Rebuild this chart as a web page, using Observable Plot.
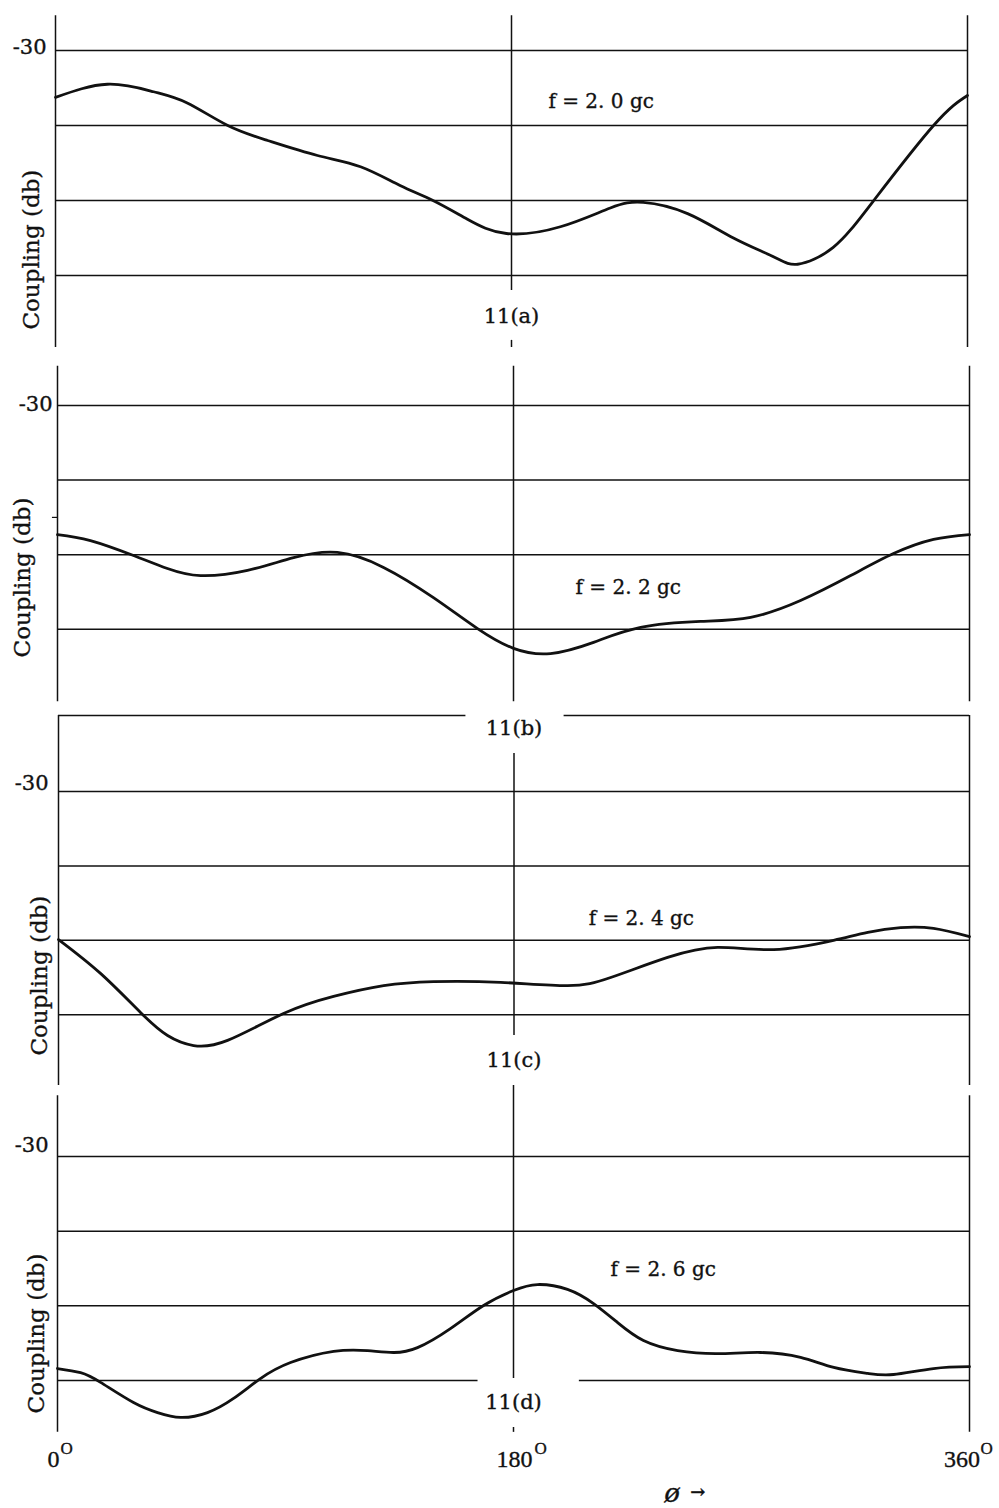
<!DOCTYPE html>
<html><head><meta charset="utf-8">
<script src="https://cdn.jsdelivr.net/npm/d3@7"></script>
<script src="https://cdn.jsdelivr.net/npm/@observablehq/plot@0.6"></script>
<style>
body{margin:0;background:#fff;}
#fig{position:relative;width:999px;height:1508px;background:#fff;overflow:hidden;}
#fig svg{position:absolute;left:0;}
</style></head><body><div id="fig"></div>
<script>
// ---- data (phase in degrees, coupling in dB) ----
const gridValues = [-30, -32, -34, -36];
const yTickLabel = "-30";
const xTickValues = [0, 180, 360];
const xTickLabels = ["0", "180", "360"];
const xAxisLabel = ["ø", "→"];
const yAxisLabel = "Coupling (db)";
const freqLabels = ["f = 2. 0 gc", "f = 2. 2 gc", "f = 2. 4 gc", "f = 2. 6 gc"];
const panelTags = ["11(a)", "11(b)", "11(c)", "11(d)"];

const phiA = [0, 20.5, 38.7, 52, 68, 83.7, 103.4, 120.4, 136, 149, 162.6, 178, 199.3, 219, 232, 249.5, 267.6, 283.4, 293, 307, 323, 346.6, 360];
const dbA  = [-31.25, -30.9, -31.1, -31.4, -32.0, -32.4, -32.8, -33.1, -33.6, -34.0, -34.5, -34.88, -34.7, -34.2, -34.05, -34.35, -35.0, -35.5, -35.7, -35.25, -34.0, -32.0, -31.2];

const phiB = [0, 13, 30, 43.4, 56.5, 75, 93.2, 110.5, 128.7, 148.4, 165.8, 180, 194.6, 211.6, 230.2, 253.8, 273.6, 293.3, 313.1, 330, 345.8, 360];
const dbB  = [-33.46, -33.62, -34.02, -34.37, -34.56, -34.42, -34.08, -33.94, -34.34, -35.15, -35.98, -36.51, -36.65, -36.35, -35.95, -35.79, -35.68, -35.23, -34.56, -33.97, -33.59, -33.46];

const phiC = [0, 16.6, 32.4, 43.1, 53.4, 66.8, 88.9, 108.7, 128.5, 148.2, 174.7, 201.2, 218.2, 240.7, 260.5, 282.6, 306.3, 319.8, 332.8, 345.8, 360];
const dbC  = [-33.98, -34.89, -35.94, -36.56, -36.83, -36.69, -35.97, -35.51, -35.22, -35.11, -35.13, -35.22, -35.0, -34.46, -34.19, -34.25, -34.0, -33.79, -33.66, -33.68, -33.9];

const phiD = [0, 9.1, 17, 30, 39.5, 48.6, 59.2, 69.5, 80.1, 92, 109, 122.4, 132.6, 142.1, 155.1, 168.2, 180, 189.5, 201.3, 211.6, 221.1, 231.3, 244.8, 260.6, 277.5, 293.3, 306.4, 319.8, 330, 345.8, 360];
const dbD  = [-35.68, -35.79, -36.05, -36.59, -36.86, -36.99, -36.86, -36.48, -35.95, -35.52, -35.22, -35.2, -35.25, -35.12, -34.61, -33.99, -33.59, -33.43, -33.56, -33.94, -34.45, -34.93, -35.2, -35.28, -35.25, -35.38, -35.65, -35.81, -35.84, -35.68, -35.63];

// ---- layout (page pixels) ----
const panels = [
  {phi: phiA, db: dbA, top: 0, h: 360, grid: 50, ppd: 37.5, ml: 55, mr: 32,
   frame: [-29.07, -37.92], center: [[-29.07, -36.4], [-37.73, -37.92]],
   grids: gridValues.map(y => ({y, x1: 0, x2: 360})),
   yLab: {dx: -9, dy: -3}, freq: {x: 194.6, y: -31.36}, tag: {x: 180, y: -37.09},
   coup: {y: -35.31, dx: -24}},
  {phi: phiB, db: dbB, top: 360, h: 345, grid: 405, ppd: 37.3, ml: 57, mr: 30,
   frame: [-28.95, -37.94], center: [[-28.95, -37.94]],
   grids: gridValues.map(y => ({y, x1: 0, x2: 360})),
   yLab: {dx: -5, dy: -1}, freq: {x: 204.5, y: -34.88}, tag: null,
   coup: {y: -34.61, dx: -35}, mark: true},
  {phi: phiC, db: dbC, top: 705, h: 385, grid: 791, ppd: 37.2, ml: 58, mr: 30,
   frame: [-27.96, -37.9], center: [[-28.98, -36.56]],
   grids: gridValues.map(y => ({y, x1: 0, x2: 360})).concat([{y: -27.96, x1: 0, x2: 161}, {y: -27.96, x1: 199.8, x2: 360}]),
   yLab: {dx: -10, dy: -8}, freq: {x: 209.5, y: -33.41}, tag: {x: 180, y: -37.23},
   tagB: {x: 180, y: -28.31}, coup: {y: -34.95, dx: -19}},
  {phi: phiD, db: dbD, top: 1085, h: 423, grid: 1156, ppd: 37.33, ml: 57, mr: 30,
   frame: [-28.37, -37.39], center: [[-28.1, -35.95], [-37.26, -37.39]],
   grids: gridValues.slice(0, 3).map(y => ({y, x1: 0, x2: 360})).concat([{y: -36, x1: 0, x2: 166}, {y: -36, x1: 206, x2: 360}]),
   yLab: {dx: -9, dy: -11}, freq: {x: 218.3, y: -33.03}, tag: {x: 180, y: -36.59},
   coup: {y: -34.74, dx: -21}, xAxis: true}
];

const FONT = "'DejaVu Serif', serif";
const TICKFONT = "'Liberation Serif', serif";
const INK = "#111";
const TS = {stroke: INK, strokeWidth: 0.35, fill: INK};
const fig = document.getElementById("fig");

panels.forEach((p, i) => {
  const hi = -30 + (p.grid - p.top) / p.ppd;
  const lo = hi - p.h / p.ppd;
  const series = p.phi.map((x, k) => ({x, y: p.db[k]}));
  const marks = [
    Plot.ruleY(p.grids, {y: "y", x1: "x1", x2: "x2", stroke: INK, strokeWidth: 1.5}),
    Plot.ruleX([0, 360], {x: d => d, y1: p.frame[0], y2: p.frame[1], stroke: INK, strokeWidth: 1.5}),
    Plot.ruleX(p.center, {x: 180, y1: d => d[0], y2: d => d[1], stroke: INK, strokeWidth: 1.5}),
    Plot.line(series, {x: "x", y: "y", curve: "natural", stroke: INK, strokeWidth: 2.8}),
    Plot.text([yTickLabel], {x: 0, y: -30, text: d => d, textAnchor: "end", lineAnchor: "middle", dx: p.yLab.dx, dy: p.yLab.dy, fontSize: 21, ...TS}),
    Plot.text([freqLabels[i]], {x: p.freq.x, y: p.freq.y, text: d => d, textAnchor: "start", lineAnchor: "middle", fontSize: 20, ...TS}),
    Plot.text([yAxisLabel], {x: 0, y: p.coup.y, text: d => d, rotate: -90, textAnchor: "middle", lineAnchor: "middle", dx: p.coup.dx, fontSize: 23, ...TS})
  ];
  if (p.tag) marks.push(Plot.text([panelTags[i]], {x: p.tag.x, y: p.tag.y, text: d => d, textAnchor: "middle", lineAnchor: "middle", fontSize: 21, ...TS}));
  if (p.tagB) marks.push(Plot.text([panelTags[1]], {x: p.tagB.x, y: p.tagB.y, text: d => d, textAnchor: "middle", lineAnchor: "middle", fontSize: 21, ...TS}));
  if (p.mark) marks.push(Plot.ruleY([-33], {y: d => d, x1: -2, x2: 0, stroke: INK, strokeWidth: 1.2}));
  if (p.xAxis) {
    const digitDx = [-4, 1, -7.5];
    const supDx = [3, 21, 11];
    xTickValues.forEach((v, k) => {
      marks.push(Plot.text([xTickLabels[k]], {x: v, y: -38.12, text: d => d, textAnchor: "middle", lineAnchor: "middle", dx: digitDx[k], fontSize: 24, fontFamily: TICKFONT, ...TS}));
      marks.push(Plot.text(["O"], {x: v, y: -37.82, text: d => d, textAnchor: "start", lineAnchor: "middle", dx: supDx[k], fontSize: 17, fontFamily: TICKFONT, ...TS}));
    });
    marks.push(Plot.text([xAxisLabel[0]], {x: 242.6, y: -39.03, text: d => d, textAnchor: "middle", lineAnchor: "middle", fontSize: 26, fontStyle: "italic", ...TS}));
    marks.push(Plot.text([xAxisLabel[1]], {x: 252.7, y: -39.0, text: d => d, textAnchor: "middle", lineAnchor: "middle", fontSize: 18, fontWeight: "bold", ...TS}));
  }
  const svg = Plot.plot({
    width: 999, height: p.h,
    marginLeft: p.ml, marginRight: p.mr, marginTop: 0, marginBottom: 0,
    x: {domain: [0, 360], axis: null},
    y: {domain: [lo, hi], axis: null},
    style: {fontFamily: FONT, color: INK, background: "transparent", overflow: "visible"},
    marks
  });
  svg.style.top = p.top + "px";
  fig.appendChild(svg);
});
</script>
</body></html>
